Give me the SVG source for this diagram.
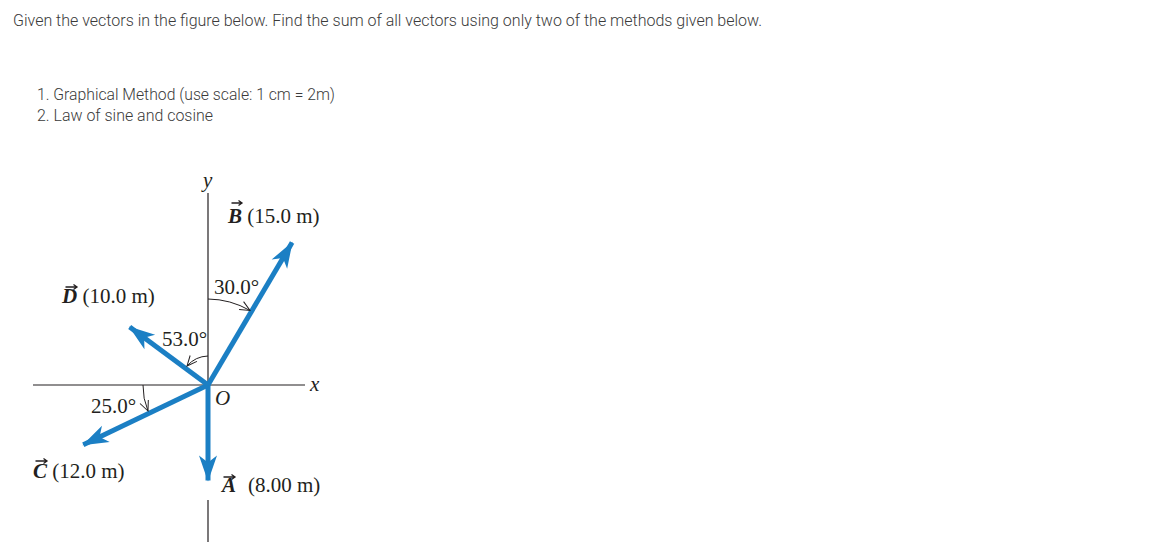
<svg xmlns="http://www.w3.org/2000/svg" width="1171" height="560" viewBox="0 0 1171 560">
<style>
.hdr{font-family:Roboto,"Liberation Sans",sans-serif;font-weight:300;font-size:16px;fill:#3a3a3a}
.lbl{font-family:"Liberation Serif","DejaVu Serif",serif;font-size:21px;fill:#231f20}
.vec{font-weight:bold;font-style:italic}
.it{font-style:italic}
.axis{stroke:#231f20;stroke-width:1.2;fill:none}
.vline{stroke:#1b7fc4;stroke-width:5;fill:none;marker-end:url(#head)}
.arc{stroke:#231f20;stroke-width:1;fill:none;marker-end:url(#open)}
.over{stroke:#231f20;stroke-width:1.3;fill:none}
</style>
<defs>
<marker id="head" markerUnits="userSpaceOnUse" orient="auto" markerWidth="30" markerHeight="20" refX="0" refY="0" viewBox="-26 -10 28 20" overflow="visible">
<path d="M1,0 L-25,-9 L-18,0 L-25,9 Z" fill="#1b7fc4"/>
</marker>
<marker id="open" markerUnits="userSpaceOnUse" orient="auto" markerWidth="12" markerHeight="12" refX="0" refY="0" viewBox="-11 -6 12 12" overflow="visible">
<path d="M-10,-4.5 L0,0 L-10,4.5" fill="none" stroke="#231f20" stroke-width="1"/>
</marker>
</defs>
<rect width="1171" height="560" fill="#fff"/>
<g id="header">
<text class="hdr" x="13" y="26" textLength="749" lengthAdjust="spacingAndGlyphs">Given the vectors in the figure below. Find the sum of all vectors using only two of the methods given below.</text>
<text class="hdr" x="37" y="100" textLength="298" lengthAdjust="spacingAndGlyphs">1. Graphical Method (use scale: 1 cm = 2m)</text>
<text class="hdr" x="37" y="121" textLength="176" lengthAdjust="spacingAndGlyphs">2. Law of sine and cosine</text>
</g>
<g id="axes">
<line class="axis" x1="208" y1="193" x2="208" y2="386"/>
<line class="axis" x1="208" y1="500" x2="208" y2="542"/>
<line class="axis" x1="33" y1="385" x2="305" y2="385"/>
<text class="lbl it" x="203" y="187">y</text>
<text class="lbl it" x="310" y="391">x</text>
<text class="lbl it" x="215" y="405">O</text>
</g>
<g id="connectors">
<line id="vecA" class="vline" x1="208" y1="385" x2="208" y2="480.5"/>
<line id="vecB" class="vline" x1="208" y1="385" x2="292.1" y2="242.6"/>
<line id="vecC" class="vline" x1="208" y1="385" x2="83.3" y2="444.7"/>
<line id="vecD" class="vline" x1="208" y1="385" x2="129.7" y2="327.1"/>
<path class="arc" d="M208,299 A86,86 0 0 1 250,310.5"/>
<path class="arc" d="M208,356 A29,29 0 0 0 187,366"/>
<path class="arc" d="M143,385 A65,65 0 0 0 148,411"/>
</g>
<g id="labelB">
<text class="lbl" x="228" y="223"><tspan class="vec">B</tspan> (15.0 m)</text>
<path class="over" d="M231.5,203 H242 M238.5,200.5 L242,203 L238.5,205.5"/>
</g>
<g id="labelD">
<text class="lbl" x="62" y="303"><tspan class="vec">D</tspan> (10.0 m)</text>
<path class="over" d="M65.5,287 H77 M73.5,284.5 L77,287 L73.5,289.5"/>
</g>
<g id="labelC">
<text class="lbl" x="33" y="478"><tspan class="vec">C</tspan> (12.0 m)</text>
<path class="over" d="M35.5,461 H47 M43.5,458.5 L47,461 L43.5,463.5"/>
</g>
<g id="labelA">
<text class="lbl" x="222" y="492"><tspan class="vec">A</tspan><tspan x="248">(8.00 m)</tspan></text>
<path class="over" d="M223.5,477 H235 M231.5,474.5 L235,477 L231.5,479.5"/>
</g>
<g id="angle30"><text class="lbl" x="214" y="294">30.0°</text></g>
<g id="angle53"><text class="lbl" x="162" y="346">53.0°</text></g>
<g id="angle25"><text class="lbl" x="91" y="413">25.0°</text></g>
</svg>
